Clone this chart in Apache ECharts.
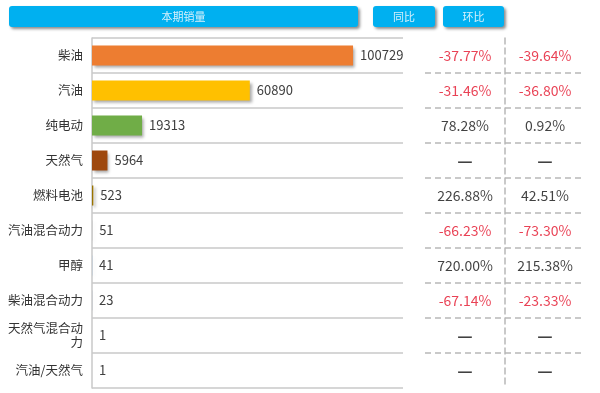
<!DOCTYPE html>
<html><head><meta charset="utf-8">
<script src="https://cdn.jsdelivr.net/npm/echarts@6/dist/echarts.min.js"></script>
<style>html,body{margin:0;padding:0;background:#fff}#c{width:600px;height:393px}</style>
</head><body><div id="c"></div>
<script>
const categories = ['柴油','汽油','纯电动','天然气','燃料电池','汽油混合动力','甲醇','柴油混合动力','天然气混合动力','汽油/天然气'];
const sales = [100729, 60890, 19313, 5964, 523, 51, 41, 23, 1, 1];
const yoy = ['-37.77%','-31.46%','78.28%','—','226.88%','-66.23%','720.00%','-67.14%','—','—'];
const mom = ['-39.64%','-36.80%','0.92%','—','42.51%','-73.30%','215.38%','-23.33%','—','—'];
const headers = ['本期销量','同比','环比'];
const barColors = ['#ED7D31','#FFC000','#70AD47','#9E480E','#997300','#A5A5A5','#5B9BD5','#264478','#636363','#43682B'];

const font = '"Noto Sans CJK SC", "Microsoft YaHei", sans-serif';
const chart = echarts.init(document.getElementById('c'));

function catAxis(gridIndex, opts) {
  return Object.assign({
    type: 'category', gridIndex, data: categories, inverse: true,
    axisTick: {show: false}, axisLabel: {show: false}, axisLine: {show: false}
  }, opts);
}
function textSeries(idx, arr) {
  return {
    type: 'scatter', xAxisIndex: idx, yAxisIndex: idx, symbolSize: 0, silent: true,
    labelLayout: {hideOverlap: false},
    label: {show: true, position: 'inside', fontFamily: font, fontSize: 14,
            formatter: p => arr[p.dataIndex]},
    data: arr.map((t, i) => ({
      value: [0.5, categories[i]],
      label: t === '—'
        ? {color: '#111', fontSize: 17, fontWeight: 'bold'}
        : {color: t.startsWith('-') ? '#E3132B' : '#111'}
    }))
  };
}

const headerBox = (x, w, text) => ({
  type: 'group', children: [
    {type: 'rect', shape: {x: x, y: 6, width: w, height: 21, r: 3},
     style: {fill: '#00B0F0', shadowBlur: 3, shadowOffsetX: 2, shadowOffsetY: 2, shadowColor: 'rgba(0,0,0,0.45)'}},
    {type: 'text', x: x + w / 2, y: 16.5,
     style: {text: text, fill: '#d5f0fb', font: '11px ' + font, align: 'center', verticalAlign: 'middle'}}
  ]
});

const dash = {color: '#b8b8b8', width: 1.5, type: [6, 4]};

chart.setOption({
  animation: false,
  graphic: [headerBox(9, 349, headers[0]), headerBox(373, 62, headers[1]), headerBox(443, 61, headers[2])],
  grid: [
    {left: 92, top: 38, width: 311, bottom: 5},
    {left: 425, top: 38, width: 80, bottom: 5},
    {left: 505, top: 38, width: 80, bottom: 5}
  ],
  xAxis: [
    {type: 'value', gridIndex: 0, min: 0, max: 120000, show: false},
    {type: 'value', gridIndex: 1, min: 0, max: 1, show: false},
    {type: 'value', gridIndex: 2, min: 0, max: 1, show: false}
  ],
  yAxis: [
    catAxis(0, {
      axisLine: {show: true, lineStyle: {color: '#c8c8c8', width: 1.5}},
      axisLabel: {show: true, fontFamily: font, fontSize: 12.5, color: '#333', margin: 9,
                  width: 78, overflow: 'break', lineHeight: 14},
      splitLine: {show: true, lineStyle: {color: '#c8c8c8', width: 1.5}}
    }),
    catAxis(1, {
      splitLine: {show: true, showMinLine: false, showMaxLine: false, lineStyle: dash}
    }),
    catAxis(2, {
      axisLine: {show: true, lineStyle: dash},
      splitLine: {show: true, showMinLine: false, showMaxLine: false, lineStyle: dash}
    })
  ],
  series: [
    {
      type: 'bar', xAxisIndex: 0, yAxisIndex: 0, barWidth: 20,
      data: sales.map((v, i) => ({value: v, itemStyle: {color: barColors[i]}})),
      itemStyle: {shadowBlur: 3, shadowOffsetX: 2, shadowOffsetY: 2, shadowColor: 'rgba(0,0,0,0.35)'},
      label: {show: true, position: 'right', distance: 7, fontFamily: font, fontSize: 13, color: '#404040'}
    },
    textSeries(1, yoy),
    textSeries(2, mom)
  ]
});
</script>
</body></html>
